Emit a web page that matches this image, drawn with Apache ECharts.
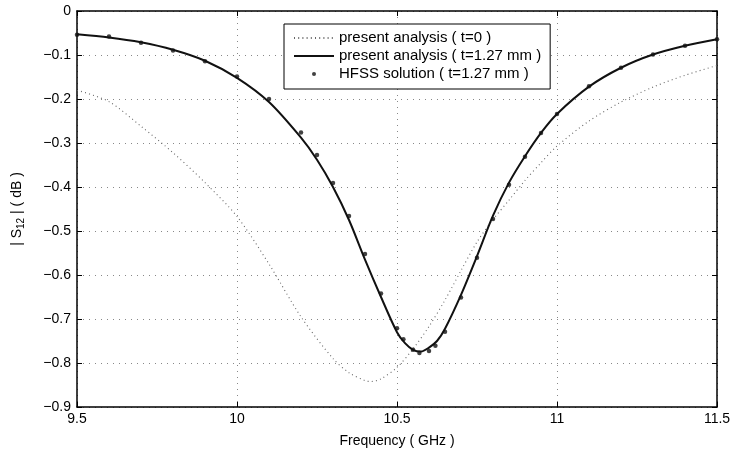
<!DOCTYPE html>
<html>
<head>
<meta charset="utf-8">
<script src="https://cdn.jsdelivr.net/npm/echarts@6/dist/echarts.min.js"></script>
<style>
html,body{margin:0;padding:0;background:#fff;}
#chart{width:734px;height:453px;}
</style>
</head>
<body>
<div id="chart"></div>
<script>
// ---- data ----
var freqT0 = [9.5, 9.6, 9.7, 9.8, 9.9, 10.0, 10.1, 10.2, 10.3, 10.35, 10.4, 10.42, 10.45, 10.5, 10.55, 10.6, 10.65, 10.7, 10.75, 10.8, 10.85, 10.9, 10.95, 11.0, 11.1, 11.2, 11.3, 11.4, 11.5];
var s12T0 = [-0.18, -0.206, -0.262, -0.322, -0.39, -0.467, -0.575, -0.695, -0.79, -0.822, -0.84, -0.842, -0.836, -0.81, -0.768, -0.717, -0.657, -0.59, -0.525, -0.474, -0.43, -0.385, -0.345, -0.307, -0.25, -0.207, -0.173, -0.146, -0.124];

var freqT127 = [9.5, 9.6, 9.7, 9.8, 9.9, 10.0, 10.1, 10.2, 10.25, 10.3, 10.35, 10.4, 10.45, 10.5, 10.525, 10.55, 10.575, 10.6, 10.625, 10.65, 10.7, 10.75, 10.8, 10.85, 10.9, 10.95, 11.0, 11.1, 11.2, 11.3, 11.4, 11.5];
var s12T127 = [-0.053, -0.06, -0.071, -0.088, -0.113, -0.152, -0.207, -0.288, -0.338, -0.4, -0.475, -0.565, -0.65, -0.73, -0.755, -0.77, -0.774, -0.765, -0.75, -0.722, -0.645, -0.557, -0.465, -0.39, -0.33, -0.277, -0.234, -0.172, -0.129, -0.099, -0.079, -0.064];

var freqHfss = [9.5, 9.6, 9.7, 9.8, 9.9, 10.0, 10.1, 10.2, 10.25, 10.3, 10.35, 10.4, 10.45, 10.5, 10.52, 10.55, 10.57, 10.6, 10.62, 10.65, 10.7, 10.75, 10.8, 10.85, 10.9, 10.95, 11.0, 11.1, 11.2, 11.3, 11.4, 11.5];
var s12Hfss = [-0.054, -0.058, -0.072, -0.09, -0.114, -0.149, -0.2, -0.276, -0.327, -0.391, -0.466, -0.552, -0.642, -0.721, -0.746, -0.77, -0.777, -0.773, -0.761, -0.729, -0.651, -0.561, -0.473, -0.395, -0.331, -0.277, -0.234, -0.171, -0.129, -0.099, -0.079, -0.064];

var seriesNames = ['present analysis ( t=0 )', 'present analysis ( t=1.27 mm )', 'HFSS solution ( t=1.27 mm )'];
var xTicks = [9.5, 10, 10.5, 11, 11.5];
var yTicks = [0, -0.1, -0.2, -0.3, -0.4, -0.5, -0.6, -0.7, -0.8, -0.9];

function pairs(xs, ys) { return xs.map(function (x, i) { return [x, ys[i]]; }); }

var FONT = 'Liberation Sans, Arial, Helvetica, sans-serif';
var chart = echarts.init(document.getElementById('chart'), null, { renderer: 'canvas' });

var gridLine = { show: true, lineStyle: { color: '#888', width: 1, type: [1, 5] } };
var baseX = {
  type: 'value', min: 9.5, max: 11.5, interval: 0.5,
  axisLine: { show: true, onZero: false, lineStyle: { color: '#000', width: 1.5 } },
  axisTick: { show: true, inside: true, length: 5, lineStyle: { color: '#000', width: 1 } }
};
var baseY = {
  type: 'value', min: -0.9, max: 0, interval: 0.1,
  axisLine: { show: true, onZero: false, lineStyle: { color: '#000', width: 1.5 } },
  axisTick: { show: true, inside: true, length: 5, lineStyle: { color: '#000', width: 1 } }
};

chart.setOption({
  backgroundColor: '#fff',
  animation: false,
  textStyle: { fontFamily: FONT },
  grid: { left: 77, right: 17, top: 11, bottom: 46, containLabel: false },
  legend: {
    orient: 'vertical', left: 284, top: 24,
    data: [
      { name: seriesNames[0], itemStyle: { opacity: 0 } },
      { name: seriesNames[1], itemStyle: { opacity: 0 } },
      { name: seriesNames[2] }
    ],
    itemWidth: 40, itemHeight: 4, itemGap: 0,
    padding: [5, 9, 6, 9],
    borderColor: '#000', borderWidth: 1, backgroundColor: '#fff',
    textStyle: { fontSize: 15, color: '#000', fontFamily: FONT, lineHeight: 18 },
    selectedMode: false
  },
  xAxis: [
    Object.assign({}, baseX, {
      position: 'bottom',
      name: 'Frequency ( GHz )', nameLocation: 'middle', nameGap: 27,
      nameTextStyle: { fontSize: 14, color: '#000', fontFamily: FONT },
      axisLabel: { show: true, margin: 5, fontSize: 14, color: '#000', fontFamily: FONT,
        formatter: function (v) { return xTicks.indexOf(v) >= 0 ? String(v) : ''; } },
      splitLine: gridLine
    }),
    Object.assign({}, baseX, { position: 'top', axisLabel: { show: false }, splitLine: { show: false } })
  ],
  yAxis: [
    Object.assign({}, baseY, {
      position: 'left',
      name: '| S{sub|12} | ( dB )', nameLocation: 'middle', nameGap: 51, nameRotate: 90,
      nameTextStyle: { fontSize: 14, color: '#000', fontFamily: FONT,
        rich: { sub: { fontSize: 10, color: '#000', fontFamily: FONT, padding: [8, 0, 0, 0] } } },
      axisLabel: { show: true, margin: 6, fontSize: 14, color: '#000', fontFamily: FONT,
        formatter: function (v) {
          var r = Math.round(v * 10) / 10;
          if (yTicks.indexOf(r) < 0) return '';
          return r === 0 ? '0' : String(r).replace('-', '\u2212');
        } },
      splitLine: gridLine
    }),
    Object.assign({}, baseY, { position: 'right', axisLabel: { show: false }, splitLine: { show: false } })
  ],
  series: [
    {
      name: seriesNames[0], type: 'line', smooth: 0.3, symbol: 'none',
      data: pairs(freqT0, s12T0),
      lineStyle: { color: '#666', width: 1.1, type: [1, 3.2] },
      itemStyle: { color: '#666' },
      z: 2
    },
    {
      name: seriesNames[1], type: 'line', smooth: 0.3, symbol: 'none',
      data: pairs(freqT127, s12T127),
      lineStyle: { color: '#111', width: 2 },
      itemStyle: { color: '#111' },
      z: 3
    },
    {
      name: seriesNames[2], type: 'scatter', symbol: 'circle', symbolSize: 4.5,
      data: pairs(freqHfss, s12Hfss),
      itemStyle: { color: '#111' },
      z: 4
    }
  ]
});
</script>
</body>
</html>
